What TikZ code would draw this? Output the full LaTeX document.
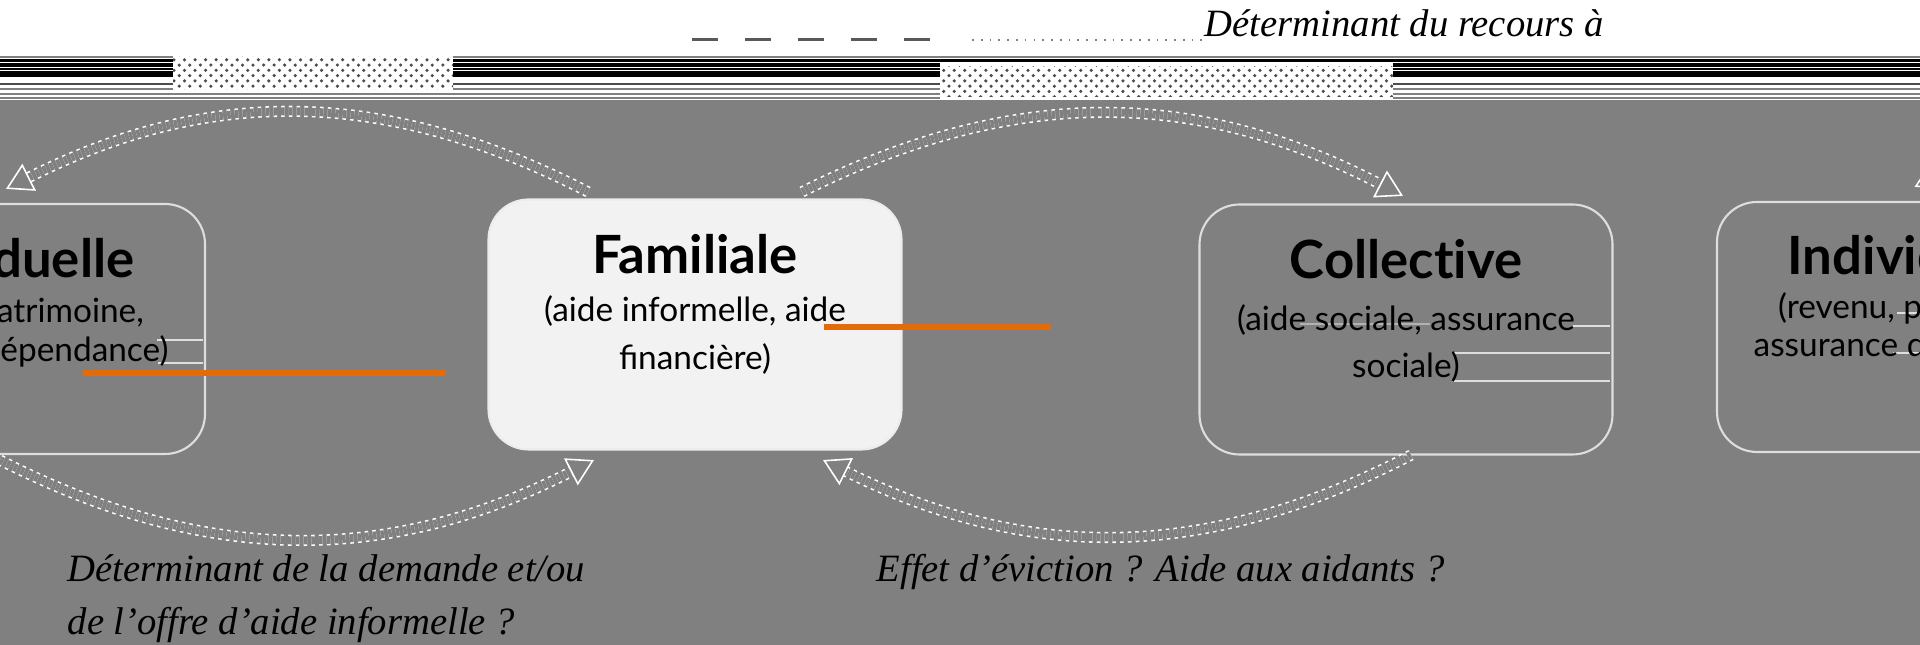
\documentclass[tikz,border=0pt]{standalone}
\usepackage{fontspec}
\setmainfont{Liberation Serif}
\newfontfamily\boxfont{Lato}
\newfontfamily\titlefont{Lato}[Ligatures=NoCommon]
\usetikzlibrary{positioning,calc,arrows.meta,patterns}
\definecolor{bggray}{RGB}{128,128,128}
\definecolor{famfill}{RGB}{242,242,242}
\definecolor{edgewhite}{RGB}{222,222,222}
\definecolor{linkorange}{RGB}{227,108,9}

\begin{document}
\begin{tikzpicture}[
	box/.style={minimum width=4.13cm,minimum height=2.5cm,rounded corners=0.4cm,draw=edgewhite,line width=0.6pt},
	boxtitle/.style={anchor=base,inner sep=0pt,font=\titlefont\bfseries\fontsize{15}{17}\selectfont},
	boxsub/.style={anchor=base,inner sep=0pt,font=\boxfont\fontsize{9.5}{11}\selectfont},
	flow/.style={draw=white,line width=0.45pt,double=bggray,double distance=0.08cm,dash pattern=on 1pt off 1.2pt,-{Triangle[open,length=0.26cm,width=0.3cm]}},
	question/.style={anchor=base west,inner sep=0pt,font=\itshape\fontsize{11}{13}\selectfont},
	ghost/.style={draw=edgewhite,line width=0.55pt},
	]
	\useasboundingbox (0,0) rectangle (19.2,6.45);
	\clip (0,0) rectangle (19.2,6.45);
	\fill[white] (0,5.45) rectangle (19.2,6.45);
	\fill[bggray] (0,0) rectangle (19.2,5.45);
	
	\foreach \y/\w/\c in {5.88/0.4/gray,5.845/0.8/black,5.80/1.4/black,5.76/0.6/black,5.71/1.6/black,5.61/0.6/black!70,5.56/0.4/gray,5.51/0.6/gray,5.47/0.6/gray}
		\draw[\c,line width=\w pt] (0,\y)--(19.2,\y);
	\fill[white] (1.73,5.52) rectangle (4.53,5.90);
	\fill[pattern=crosshatch dots,pattern color=black!70] (1.73,5.55) rectangle (4.53,5.88);
	\fill[white] (9.40,5.45) rectangle (13.93,5.82);
	\fill[pattern=crosshatch dots,pattern color=black!70] (9.40,5.48) rectangle (13.93,5.78);
	
	\node[question] (recours) at (12.04,6.08) {Déterminant du recours à};
	\coordinate (lead) at (6.92,6.05);
	\draw[black!65,line width=0.85pt,dash pattern=on 0.26cm off 0.27cm] (lead)--++(2.43,0);
	\draw[gray,line width=0.5pt,dotted] ([xshift=2.8cm]lead)--([yshift=-0.03cm]recours.base west);
	
	\node[box] (indl) at (-0.015,3.16) {};
	\node[box,fill=famfill,draw=white!85!gray] (fam) at (6.95,3.205) {};
	\node[box] (col) at (14.06,3.155) {};
	\node[box] (indr) at (19.235,3.18) {};
	
	\draw[ghost] (1.57,3.05)--(2.03,3.05) (1.58,2.82)--(2.03,2.82);
	\draw[ghost] (15.73,3.19)--(16.10,3.19) (14.52,2.92)--(16.10,2.92) (14.52,2.64)--(16.10,2.64);
	\draw[ghost,draw=gray!60] (13.00,3.21)--(14.30,3.21);
	\draw[ghost] (18.97,3.32)--(19.2,3.32) (18.93,2.92)--(19.2,2.92);
	
	\node[boxtitle,shift={(0,-0.75)}] (indltitle) at (indl.north) {Individuelle};
	\node[boxsub,shift={(0,-1.20)}] (indlsub) at (indl.north) {(revenu, patrimoine,};
	\node[boxsub,shift={(0,-1.59)}] (indlsubb) at (indl.north) {assurance dépendance)};
	\node[boxtitle,shift={(0,-0.75)}] (famtitle) at (fam.north) {Familiale};
	\node[boxsub,shift={(0,-1.23)}] (famsub) at (fam.north) {(aide informelle, aide};
	\node[boxsub,shift={(0,-1.71)}] (famsubb) at (fam.north) {financière)};
	\node[boxtitle,shift={(0,-0.75)}] (coltitle) at (col.north) {Collective};
	\node[boxsub,shift={(0,-1.27)}] (colsub) at (col.north) {(aide sociale, assurance};
	\node[boxsub,shift={(0,-1.74)}] (colsubb) at (col.north) {sociale)};
	\node[boxtitle,shift={(0,-0.74)}] (indrtitle) at (indr.north) {Individuelle};
	\node[boxsub,shift={(0,-1.18)}] (indrsub) at (indr.north) {(revenu, patrimoine,};
	\node[boxsub,shift={(0,-1.56)}] (indrsubb) at (indr.north) {assurance dépendance)};
	
	\draw[flow] ([shift={(-1.07,0.065)}]fam.north) to[bend right=27] ([shift={(0.075,0.14)}]indl.north);
	\draw[flow] ([shift={(0.015,-0.05)}]indl.south) to[bend right=27] ([shift={(-1.01,-0.095)}]fam.south);
	\draw[flow] ([shift={(1.07,0.065)}]fam.north) to[bend left=27] ([shift={(-0.03,0.075)}]col.north);
	\draw[flow] ([shift={(0.05,0.005)}]col.south) to[bend left=27] ([shift={(1.28,-0.095)}]fam.south);
	\coordinate (offright) at (25.0,4.55);
	\draw[flow] (offright) to[bend right=27] ([shift={(-0.09,0.14)}]indr.north);
	
	\coordinate (oa) at (0.83,2.72);
	\coordinate (ob) at (8.24,3.18);
	\draw[linkorange,line width=1.7pt] (oa)--++(3.63,0);
	\draw[linkorange,line width=1.7pt] (ob)--++(2.27,0);
	
	\node[question] (demande) at (0.67,0.63) {Déterminant de la demande et/ou};
	\node[question] (offre) at (0.67,0.10) {de l’offre d’aide informelle ?};
	\node[question] (eviction) at (8.76,0.63) {Effet d’éviction ? Aide aux aidants ?};
\end{tikzpicture}
\end{document}
